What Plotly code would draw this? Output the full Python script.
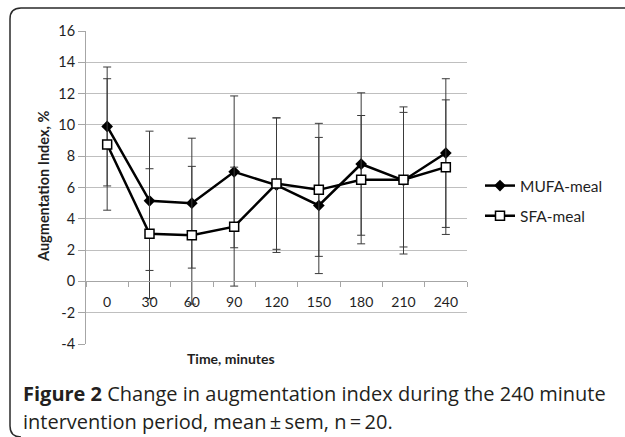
import plotly.graph_objects as go

# ---- data ----
time_labels = ["0", "30", "60", "90", "120", "150", "180", "210", "240"]
mufa_mean = [9.9, 5.15, 5.0, 7.0, 6.15, 4.85, 7.5, 6.45, 8.2]
mufa_sem = [3.8, 4.45, 4.15, 4.85, 4.3, 4.35, 4.55, 4.7, 4.75]
sfa_mean = [8.75, 3.05, 2.95, 3.5, 6.25, 5.85, 6.5, 6.5, 7.3]
sfa_sem = [4.2, 4.15, 4.4, 3.8, 4.2, 4.25, 4.1, 4.3, 4.3]
y_ticks = list(range(-4, 17, 2))

W, H = 625, 437
L, R, T, B = 86, 467, 31, 344  # plot area in px


def px(x):
    return (x - L) / (R - L)


def py(y):
    return (B - y) / (B - T)


FONT = "Lato"
TXT = "#1f1f1f"
err_color = "#3a3a3a"

fig = go.Figure()
fig.add_trace(go.Scatter(
    x=time_labels, y=mufa_mean, name="MUFA-meal", mode="lines+markers",
    line=dict(color="black", width=2.5),
    marker=dict(symbol="diamond", size=9, color="black"),
    error_y=dict(type="data", array=mufa_sem, visible=True, color=err_color,
                 thickness=1, width=4),
    legendgroup="a",
))
fig.add_trace(go.Scatter(
    x=time_labels, y=sfa_mean, name="SFA-meal", mode="lines+markers",
    line=dict(color="black", width=2.5),
    marker=dict(symbol="square", size=9, color="white",
                line=dict(color="black", width=1.5)),
    error_y=dict(type="data", array=sfa_sem, visible=True, color=err_color,
                 thickness=1, width=4),
    legendgroup="b",
))

fig.update_layout(
    width=W, height=H,
    margin=dict(l=L, r=W - R, t=T, b=H - B),
    paper_bgcolor="white", plot_bgcolor="white",
    font=dict(family=FONT, size=14, color=TXT),
    showlegend=True,
    legend=dict(x=px(480), y=py(169), xanchor="left", yanchor="top",
                font=dict(family=FONT, size=15.5, color=TXT),
                tracegroupgap=7, itemwidth=30, traceorder="grouped",
                bgcolor="rgba(0,0,0,0)"),
    xaxis=dict(type="category", categoryorder="array", categoryarray=time_labels,
               range=[-0.5, len(time_labels) - 0.5],
               anchor="free", position=py(281.4),
               showline=True, linecolor="#a6a6a6", linewidth=1,
               ticks="outside", tickson="boundaries", ticklen=5,
               tickcolor="#a6a6a6", showgrid=False, zeroline=False,
               ticklabelstandoff=8,
               tickfont=dict(family=FONT, size=14, color=TXT)),
    yaxis=dict(range=[-4, 16], tickvals=y_ticks, ticktext=[str(v) for v in y_ticks],
               showline=True, linecolor="#a6a6a6", linewidth=1,
               ticks="outside", ticklen=7, tickcolor="#a6a6a6",
               showgrid=True, gridcolor="#bfbfbf", gridwidth=1, zeroline=False,
               tickfont=dict(family=FONT, size=14.5, color=TXT)),
)

annotations = [
    dict(text="<b>Time, minutes</b>", x=px(231), y=py(358), xref="paper", yref="paper",
         showarrow=False, xanchor="center", yanchor="middle",
         font=dict(family=FONT, size=14, color=TXT)),
    dict(text="<b>Augmentation Index, %</b>", x=px(43), y=py(187), xref="paper", yref="paper",
         showarrow=False, xanchor="center", yanchor="middle", textangle=-90,
         font=dict(family=FONT, size=14.5, color=TXT)),
    dict(text="<b>Figure 2</b> Change in augmentation index during the 240 minute",
         x=px(21), y=py(393), xref="paper", yref="paper", showarrow=False,
         xanchor="left", yanchor="middle",
         font=dict(family="Open Sans", size=20, color="#231f20")),
    dict(text="intervention period, mean\u2009\u00b1\u2009sem, n\u2009=\u200920.",
         x=px(21), y=py(421), xref="paper", yref="paper", showarrow=False,
         xanchor="left", yanchor="middle",
         font=dict(family="Open Sans", size=20, color="#231f20")),
]
fig.update_layout(annotations=annotations)

# outer frame: open path (top edge, rounded top-left corner, left edge,
# rounded bottom-left corner); right and bottom edges lie outside the picture
x0, y0, x1, y1, r = 10, 8, 625, 437, 11
path = (f"M {px(x1)},{py(y0)} L {px(x0 + r)},{py(y0)} "
        f"Q {px(x0)},{py(y0)} {px(x0)},{py(y0 + r)} "
        f"L {px(x0)},{py(y1 - r)} Q {px(x0)},{py(y1)} {px(x0 + r)},{py(y1)}")
fig.add_shape(type="path", path=path, xref="paper", yref="paper",
              line=dict(color="#2a2a2a", width=1.5), layer="below")

fig.write_html("out.html", config={"displayModeBar": False},
               post_script="document.body.style.margin='0';document.body.style.overflow='hidden';")
